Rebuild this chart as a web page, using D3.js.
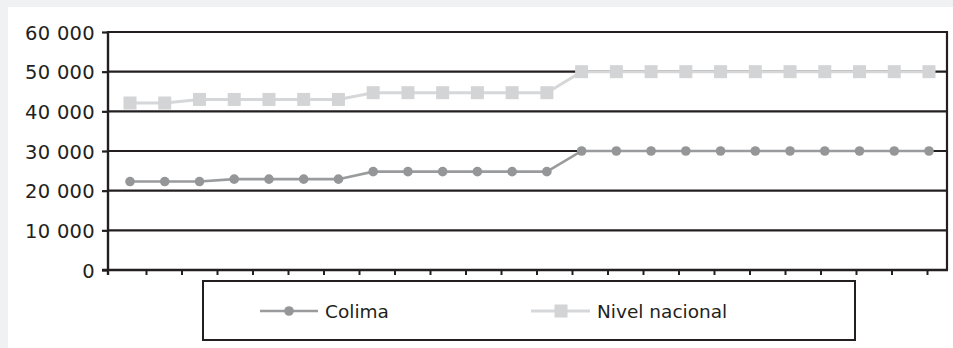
<!DOCTYPE html>
<html><head><meta charset="utf-8">
<script src="https://cdn.jsdelivr.net/npm/d3@7"></script>
<style>
html,body{margin:0;padding:0;background:#f0f1f3;}
svg{display:block;}
</style></head>
<body>
<script>
// ---- data ----
const categories = d3.range(1, 25).map(String);
const colima = [22300, 22300, 22300, 22900, 22900, 22900, 22900,
  24800, 24800, 24800, 24800, 24800, 24800,
  30000, 30000, 30000, 30000, 30000, 30000, 30000, 30000, 30000, 30000, 30000];
const nacional = [42100, 42100, 43000, 43000, 43000, 43000, 43000,
  44700, 44700, 44700, 44700, 44700, 44700,
  50000, 50000, 50000, 50000, 50000, 50000, 50000, 50000, 50000, 50000, 50000];
const yTicks = [0, 10000, 20000, 30000, 40000, 50000, 60000];
const seriesNames = ["Colima", "Nivel nacional"];

// ---- layout ----
const W = 953, H = 348;
const plot = {left: 108, right: 947, top: 32, bottom: 270};
const dark = "#231f20";
const font = "'DejaVu Sans', Verdana, sans-serif";

const svg = d3.select("body").append("svg").attr("width", W).attr("height", H);
svg.append("rect").attr("x", 8).attr("y", 7).attr("width", W - 8).attr("height", H - 7).attr("fill", "#ffffff");

const y = d3.scaleLinear().domain([0, 60000]).range([plot.bottom, plot.top]);
const x = d3.scalePoint().domain(categories).range([130, 929]);
const xb = d3.scaleBand().domain(categories).range([111, 963]);

const fmt = v => d3.format(",")(v).replace(/,/g, " ");

// gridlines
svg.append("g").selectAll("line").data(yTicks.filter(d => d > 0)).join("line")
  .attr("x1", plot.left).attr("x2", plot.right)
  .attr("y1", d => y(d)).attr("y2", d => y(d))
  .attr("stroke", dark).attr("stroke-width", 2.2);

// right border
svg.append("line").attr("x1", plot.right).attr("x2", plot.right)
  .attr("y1", plot.top - 1).attr("y2", plot.bottom)
  .attr("stroke", dark).attr("stroke-width", 2.2);

// y axis
const yAxis = d3.axisLeft(y).tickValues(yTicks).tickFormat(fmt).tickSize(6).tickPadding(7);
const gy = svg.append("g").attr("transform", `translate(${plot.left},0)`).call(yAxis);
gy.select(".domain").remove();
gy.selectAll(".tick line").attr("stroke", dark).attr("stroke-width", 2.2);
gy.selectAll(".tick text").attr("fill", dark).attr("font-family", font).attr("font-size", 19.5)
  .attr("letter-spacing", "0.3px").attr("dy", "0.36em");
svg.append("line").attr("x1", plot.left).attr("x2", plot.left)
  .attr("y1", plot.top - 1).attr("y2", plot.bottom + 5)
  .attr("stroke", dark).attr("stroke-width", 2.4);

// x axis
svg.append("line").attr("x1", plot.left - 6).attr("x2", plot.right + 1)
  .attr("y1", plot.bottom).attr("y2", plot.bottom)
  .attr("stroke", dark).attr("stroke-width", 2.4);
svg.append("g").selectAll("line").data(categories.slice(1)).join("line")
  .attr("x1", d => xb(d)).attr("x2", d => xb(d))
  .attr("y1", plot.bottom).attr("y2", plot.bottom + 5)
  .attr("stroke", dark).attr("stroke-width", 2);

const line = d3.line().x((d, i) => x(categories[i])).y(d => y(d));

// nacional
const cNac = "#d3d4d6", cNacLine = "#d6d7d9";
svg.append("path").datum(nacional).attr("d", line).attr("fill", "none")
  .attr("stroke", cNacLine).attr("stroke-width", 3);
svg.append("g").selectAll("rect").data(nacional).join("rect")
  .attr("x", (d, i) => x(categories[i]) - 6.5).attr("y", d => y(d) - 6.5)
  .attr("width", 13).attr("height", 13).attr("fill", cNac);

// colima
const cCol = "#959698", cColLine = "#9a9b9d";
svg.append("path").datum(colima).attr("d", line).attr("fill", "none")
  .attr("stroke", cColLine).attr("stroke-width", 2.6);
svg.append("g").selectAll("circle").data(colima).join("circle")
  .attr("cx", (d, i) => x(categories[i])).attr("cy", d => y(d))
  .attr("r", 4.8).attr("fill", cCol);

// legend
const lg = svg.append("g");
lg.append("rect").attr("x", 203).attr("y", 281).attr("width", 652).attr("height", 59)
  .attr("fill", "#fff").attr("stroke", dark).attr("stroke-width", 2);
const ly = 311;
// Colima
lg.append("line").attr("x1", 260).attr("x2", 318).attr("y1", ly).attr("y2", ly)
  .attr("stroke", cColLine).attr("stroke-width", 2.6);
lg.append("circle").attr("cx", 289).attr("cy", ly).attr("r", 4.8).attr("fill", cCol);
lg.append("text").attr("x", 325).attr("y", ly).attr("dy", "0.36em")
  .attr("font-family", font).attr("font-size", 18.5).attr("fill", dark).text(seriesNames[0]);
// Nacional
lg.append("line").attr("x1", 531).attr("x2", 590).attr("y1", ly).attr("y2", ly)
  .attr("stroke", cNacLine).attr("stroke-width", 3);
lg.append("rect").attr("x", 561 - 6.5).attr("y", ly - 6.5).attr("width", 13).attr("height", 13).attr("fill", cNac);
lg.append("text").attr("x", 597).attr("y", ly).attr("dy", "0.36em")
  .attr("font-family", font).attr("font-size", 18.5).attr("fill", dark).text(seriesNames[1]);
</script>
</body></html>
